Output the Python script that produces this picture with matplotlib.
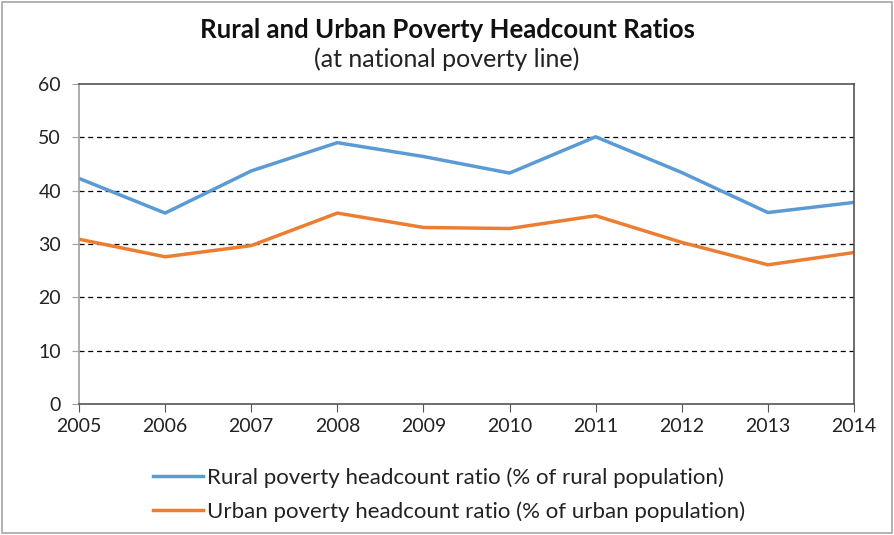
import matplotlib.pyplot as plt
from matplotlib.patches import Rectangle

years = [2005, 2006, 2007, 2008, 2009, 2010, 2011, 2012, 2013, 2014]
rural = [42.3, 35.8, 43.7, 49.0, 46.4, 43.3, 50.1, 43.4, 35.9, 37.8]
urban = [30.9, 27.6, 29.7, 35.8, 33.1, 32.9, 35.3, 30.3, 26.1, 28.4]

plt.rcParams['font.family'] = ['Lato', 'DejaVu Sans']

fig = plt.figure(figsize=(8.94, 5.35), dpi=100)
ax = fig.add_axes([79 / 894, 1 - 404 / 535, (854 - 79) / 894, (404 - 84) / 535])

# outer chart frame
fig.patches.append(Rectangle((2 / 894, 2 / 535), 890 / 894, 531 / 535,
                             transform=fig.transFigure, fill=False,
                             edgecolor='#a6a6a6', linewidth=1.2))

ax.plot(years, rural, color='#5b9bd5', linewidth=2.5,
        label='Rural poverty headcount ratio (% of rural population)')
ax.plot(years, urban, color='#ed7d31', linewidth=2.5,
        label='Urban poverty headcount ratio (% of urban population)')

ax.set_xlim(2005, 2014)
ax.set_ylim(0, 60)
ax.set_xticks(years)
ax.set_yticks(range(0, 61, 10))
for y in range(10, 60, 10):
    ax.axhline(y, color='black', linewidth=0.9, linestyle=(0, (4, 3)), zorder=0)

ax.spines['left'].set_color('#a0a0a0')
ax.spines['bottom'].set_color('#555555')
ax.spines['top'].set_color('#555555')
ax.spines['right'].set_color('#555555')
for s in ax.spines.values():
    s.set_linewidth(1.2)

ax.tick_params(axis='y', length=5, color='#a0a0a0', labelsize=14, pad=8,
               labelcolor='#222222')
ax.tick_params(axis='x', length=6, color='#555555', labelsize=14, pad=4,
               labelcolor='#222222')

fig.text(0.5, 1 - 30 / 535, 'Rural and Urban Poverty Headcount Ratios',
         ha='center', va='center', fontsize=18.5, fontweight='bold', color='#111111')
fig.text(0.5, 1 - 59 / 535, '(at national poverty line)',
         ha='center', va='center', fontsize=18, color='#222222')

leg = fig.legend(loc='upper left', bbox_to_anchor=(133 / 894, 1 - 447 / 535),
                 frameon=False, fontsize=16, handlelength=2.25,
                 handletextpad=0.2, labelspacing=0.6)
for t in leg.get_texts():
    t.set_color('#222222')

fig.savefig('out.png', dpi=100)
